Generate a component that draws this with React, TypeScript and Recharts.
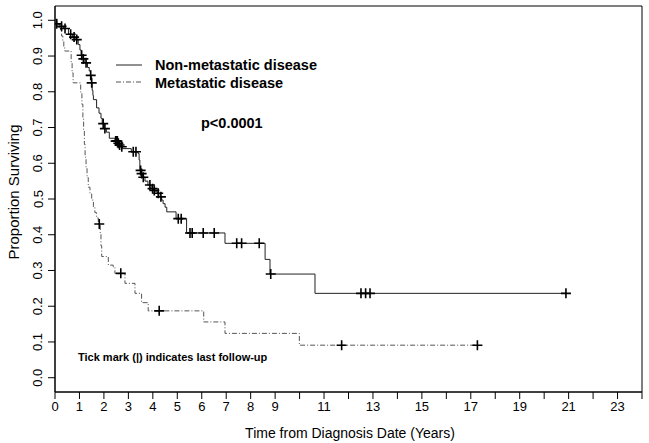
import React from "react";
import {
  ComposedChart,
  Line,
  Scatter,
  XAxis,
  YAxis,
  ReferenceArea,
} from "recharts";

// Kaplan-Meier steps (years, proportion surviving)
const nonMetTime = [
  0, 0.05, 0.2, 0.35, 0.55, 0.72, 0.85, 0.95, 1.02, 1.07, 1.14, 1.22, 1.33,
  1.4, 1.45, 1.49, 1.52, 1.55, 1.57, 1.7, 1.8, 1.88, 1.93, 2.0, 2.1, 2.22,
  2.45, 2.58, 2.62, 2.7, 2.76, 3.12, 3.4, 3.44, 3.47, 3.52, 3.58, 3.68, 3.8,
  3.93, 4.03, 4.12, 4.2, 4.3, 4.36, 4.42, 4.5, 4.57, 4.95, 5.38, 6.95, 8.59,
  8.79, 10.63, 20.89,
];
const nonMetSurv = [
  1.0, 0.99, 0.983, 0.977, 0.961, 0.953, 0.946, 0.932, 0.917, 0.902, 0.892,
  0.881, 0.868, 0.858, 0.846, 0.825, 0.804, 0.79, 0.778, 0.755, 0.74, 0.726,
  0.711, 0.697, 0.687, 0.67, 0.662, 0.656, 0.651, 0.646, 0.641, 0.632, 0.627,
  0.609, 0.58, 0.571, 0.561, 0.55, 0.539, 0.529, 0.524, 0.52, 0.516, 0.506,
  0.497, 0.487, 0.477, 0.464, 0.445, 0.405, 0.376, 0.331, 0.29, 0.236, 0.236,
];
const nonMetCensored = [
  0.07, 0.27, 0.41, 0.64, 0.78, 0.89, 1.09, 1.16, 1.27, 1.46, 1.5, 1.97, 2.04,
  2.48, 2.52, 2.55, 2.59, 2.64, 2.73, 3.2, 3.31, 3.5, 3.54, 3.61, 3.88, 3.99,
  4.06, 4.22, 4.33, 5.04, 5.16, 5.52, 5.61, 6.06, 6.51, 7.43, 7.63, 8.35, 8.82,
  12.51, 12.7, 12.88, 20.89,
];

const metTime = [
  0, 0.08, 0.15, 0.22, 0.27, 0.32, 0.36, 0.4, 0.66, 0.7, 0.74, 1.05, 1.1, 1.14,
  1.17, 1.2, 1.23, 1.27, 1.31, 1.36, 1.43, 1.5, 1.57, 1.63, 1.7, 1.77, 1.85,
  1.88, 1.91, 2.18, 2.38, 2.45, 2.86, 3.27, 3.54, 3.81, 6.08, 6.95, 9.99, 17.27,
];
const metSurv = [
  1.0, 0.99, 0.98, 0.971, 0.956, 0.941, 0.927, 0.914, 0.883, 0.853, 0.825,
  0.799, 0.765, 0.726, 0.692, 0.653, 0.617, 0.589, 0.56, 0.533, 0.516, 0.497,
  0.478, 0.462, 0.447, 0.43, 0.403, 0.369, 0.339, 0.315, 0.31, 0.292, 0.264,
  0.236, 0.21, 0.187, 0.156, 0.124, 0.091, 0.091,
];
const metCensored = [1.81, 2.69, 4.26, 11.72, 17.27];

const xTicks = [
  0, 1, 2, 3, 4, 5, 6, 7, 8, 9, 10, 11, 12, 13, 14, 15, 16, 17, 18, 19, 20, 21,
  22, 23, 24,
];
const xTickLabels = [0, 1, 2, 3, 4, 5, 6, 7, 8, 9, 11, 13, 15, 17, 19, 21, 23];
const yTicks = [0, 0.1, 0.2, 0.3, 0.4, 0.5, 0.6, 0.7, 0.8, 0.9, 1.0];

// value of the step curve at time t
const survAt = (times: number[], surv: number[], t: number) => {
  let s = surv[0];
  for (let i = 0; i < times.length; i++) {
    if (times[i] <= t) s = surv[i];
  }
  return s;
};

const nonMetData = nonMetTime.map((t, i) => ({ t, s: nonMetSurv[i] }));
const metData = metTime.map((t, i) => ({ t, s: metSurv[i] }));
const nonMetMarks = nonMetCensored.map((t) => ({
  t,
  s: survAt(nonMetTime, nonMetSurv, t),
}));
const metMarks = metCensored.map((t) => ({
  t,
  s: survAt(metTime, metSurv, t),
}));

const Cross = (props: any) => {
  const { cx, cy } = props;
  return (
    <path
      d={`M${cx - 5},${cy}h10M${cx},${cy - 5}v10`}
      stroke="#000"
      strokeWidth={1.6}
      fill="none"
    />
  );
};

const YTick = (props: any) => {
  const { y, payload } = props;
  return (
    <text
      x={38}
      y={y}
      transform={`rotate(-90, 38, ${y})`}
      textAnchor="middle"
      dominantBaseline="central"
      fontSize={13}
      fill="#000"
    >
      {payload.value.toFixed(1)}
    </text>
  );
};

const App = () => {
  return (
    <div
      style={{
        position: "relative",
        width: 649,
        height: 443,
        fontFamily: "'Liberation Sans', Arial, sans-serif",
        background: "#fff",
      }}
    >
      <style>{"body{margin:0}"}</style>
      <ComposedChart
        width={649}
        height={443}
        margin={{ top: 6, right: 7, bottom: 0, left: 0 }}
      >
        <XAxis
          dataKey="t"
          type="number"
          domain={[0, 24]}
          ticks={xTicks}
          interval={0}
          tickSize={7}
          tickMargin={3}
          height={51}
          stroke="#000"
          tick={{ fill: "#000", fontSize: 13 }}
          tickFormatter={(v) => (xTickLabels.includes(v) ? String(v) : "")}
          allowDataOverflow
        />
        <YAxis
          type="number"
          domain={[-0.04, 1.04]}
          ticks={yTicks}
          interval={0}
          tickSize={7}
          width={55}
          stroke="#000"
          tick={<YTick />}
          allowDataOverflow
        />
        <ReferenceArea
          x1={0}
          x2={24}
          y1={-0.04}
          y2={1.04}
          fill="none"
          stroke="#000"
          strokeWidth={1}
        />

        {/* Non-metastatic: solid */}
        <Line
          data={nonMetData}
          dataKey="s"
          type="stepAfter"
          stroke="#222"
          strokeWidth={1}
          dot={false}
          isAnimationActive={false}
        />
        {/* Metastatic: dash-dot */}
        <Line
          data={metData}
          dataKey="s"
          type="stepAfter"
          stroke="#555"
          strokeWidth={1}
          strokeDasharray="5 2 1 2"
          dot={false}
          isAnimationActive={false}
        />

        {/* censor ticks */}
        <Scatter
          data={nonMetMarks}
          dataKey="s"
          shape={<Cross />}
          isAnimationActive={false}
        />
        <Scatter
          data={metMarks}
          dataKey="s"
          shape={<Cross />}
          isAnimationActive={false}
        />
      </ComposedChart>

      <svg
        width={649}
        height={443}
        style={{ position: "absolute", left: 0, top: 0, pointerEvents: "none" }}
      >
        <line x1={116} x2={142} y1={65} y2={65} stroke="#222" />
        <text x={155} y={65} dominantBaseline="central" fontSize={14.5} fontWeight="bold">
          Non-metastatic disease
        </text>
        <line
          x1={116}
          x2={142}
          y1={82}
          y2={82}
          stroke="#555"
          strokeDasharray="5 2 1 2"
        />
        <text x={155} y={83} dominantBaseline="central" fontSize={14.5} fontWeight="bold">
          Metastatic disease
        </text>
        <text x={201} y={123} dominantBaseline="central" fontSize={14.5} fontWeight="bold">
          p&lt;0.0001
        </text>
        <text x={78} y={357} dominantBaseline="central" fontSize={11} fontWeight="bold">
          Tick mark (|) indicates last follow-up
        </text>
        <text x={350} y={433} textAnchor="middle" dominantBaseline="central" fontSize={14}>
          Time from Diagnosis Date (Years)
        </text>
        <text
          x={13}
          y={192}
          transform="rotate(-90, 13, 192)"
          textAnchor="middle"
          dominantBaseline="central"
          fontSize={15}
        >
          Proportion Surviving
        </text>
      </svg>
    </div>
  );
};

export default App;
